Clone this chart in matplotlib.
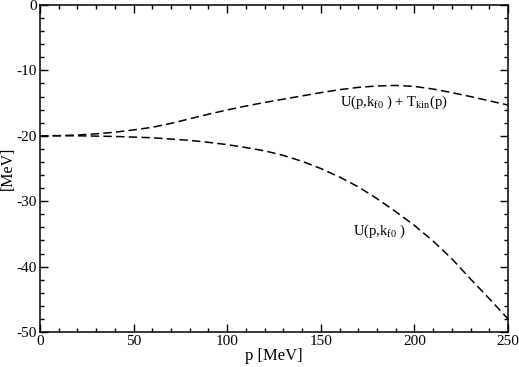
import matplotlib
matplotlib.use("Agg")
import matplotlib.pyplot as plt
from matplotlib.ticker import MultipleLocator

plt.rcParams['font.family'] = ['Liberation Serif', 'DejaVu Serif']
plt.rcParams['mathtext.fontset'] = 'custom'
plt.rcParams['mathtext.rm'] = 'Liberation Serif'
plt.rcParams['mathtext.it'] = 'Liberation Serif:italic'
plt.rcParams['axes.unicode_minus'] = False

p = [0, 10, 20, 30, 40, 50, 60, 70, 80, 90, 100, 110, 120, 130, 140, 150,
     160, 170, 180, 190, 200, 210, 220, 230, 240, 250]
U = [-20.0, -20.0, -20.0, -20.05, -20.1, -20.2, -20.3, -20.5, -20.7, -21.0,
     -21.35, -21.8, -22.3, -23.0, -23.9, -25.0, -26.3, -27.8, -29.6, -31.6,
     -33.7, -36.1, -38.8, -41.9, -44.9, -48.0]
U_T = [-20.0, -19.97, -19.88, -19.7, -19.45, -19.1, -18.7, -18.1, -17.4, -16.7,
       -16.05, -15.45, -14.9, -14.4, -13.9, -13.4, -12.95, -12.6, -12.38, -12.3,
       -12.45, -12.85, -13.4, -14.0, -14.65, -15.3]

x_ticks = [0, 50, 100, 150, 200, 250]
y_ticks = [0, -10, -20, -30, -40, -50]

fig = plt.figure(figsize=(5.19, 3.67), dpi=100)
ax = fig.add_axes([40/519, 1-332/367, 468/519, 327/367])

dash = (5.5, 2.8)
ax.plot(p, U_T, color='black', lw=1.1, dashes=dash)
ax.plot(p, U, color='black', lw=1.1, dashes=dash)

ax.set_xlim(0, 250)
ax.set_ylim(-50, 0)
ax.set_xticks(x_ticks)
ax.set_yticks(y_ticks)
ax.xaxis.set_minor_locator(MultipleLocator(10))
ax.yaxis.set_minor_locator(MultipleLocator(2))
ax.tick_params(which='both', direction='in', top=True, right=True, labelsize=11)
ax.tick_params(which='major', length=6, width=1)
ax.tick_params(which='minor', length=3, width=1)
ax.tick_params(axis='x', pad=2)
ax.tick_params(axis='y', pad=2)
for s in ax.spines.values():
    s.set_linewidth(1.1)

ax.set_xlabel('p [MeV]', fontsize=12, labelpad=0)
ax.set_ylabel('[MeV]', fontsize=11.5)
ax.yaxis.set_label_coords(-0.052, 0.5)

ax.text(189, -14.9, r'U(p,k$_{\rm f0}$ ) + T$_{\rm kin}$(p)', fontsize=10.5, ha='center', va='center')
ax.text(181, -34.6, r'U(p,k$_{\rm f0}$ )', fontsize=10.5, ha='center', va='center')

fig.savefig('out.png', dpi=100)
